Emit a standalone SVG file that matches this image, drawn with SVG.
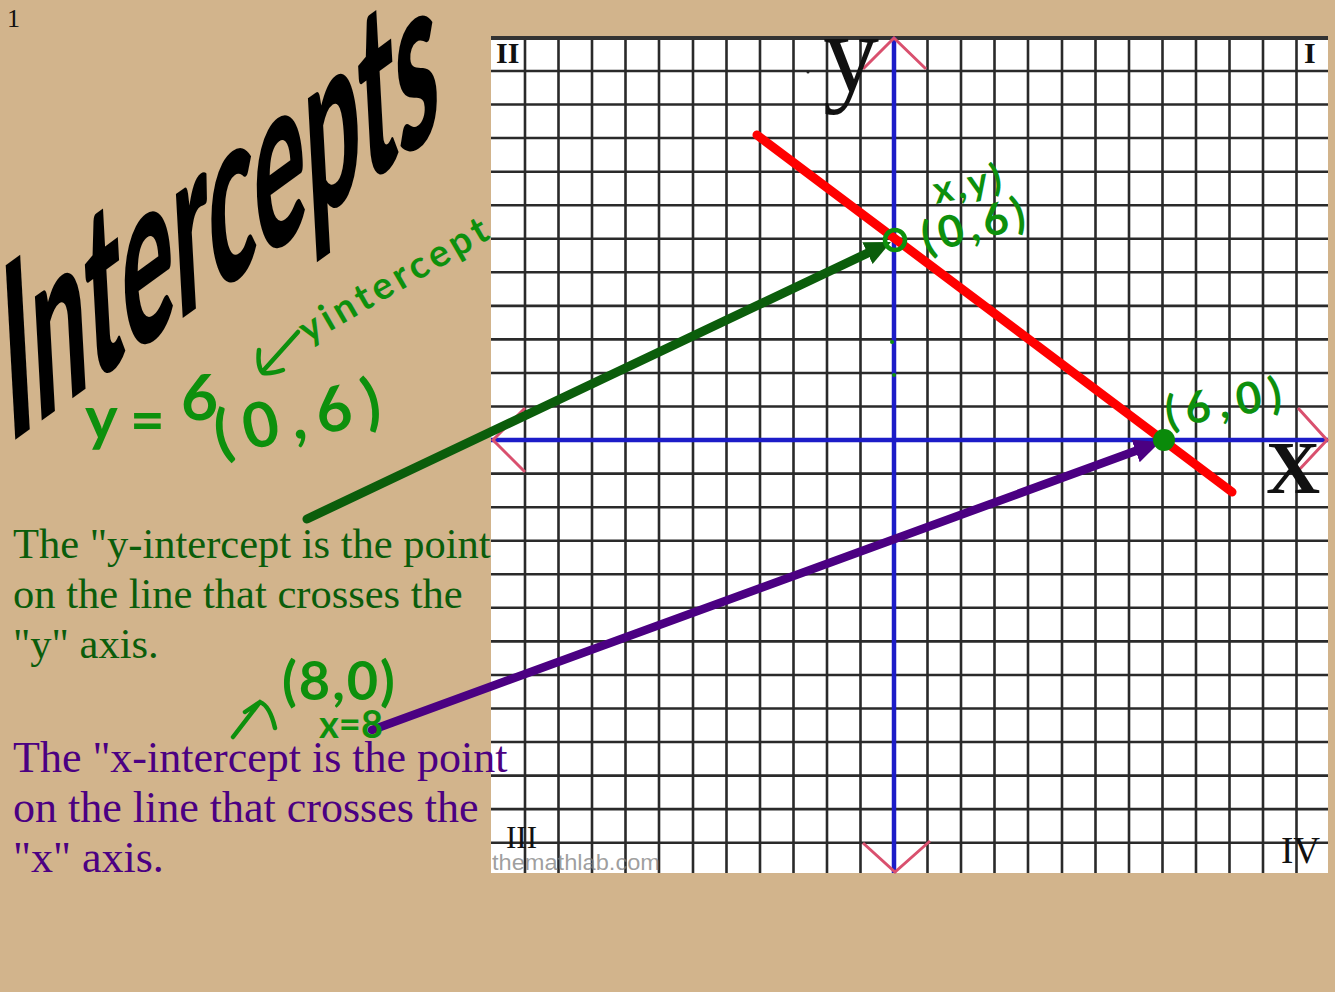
<svg xmlns="http://www.w3.org/2000/svg" width="1335" height="992" viewBox="0 0 1335 992">
<defs>
<style>
.grid{stroke:#2a2a2a;stroke-width:2.6;fill:none}
.axis{stroke:#1c1cc8;stroke-width:4.5;fill:none}
.pink{stroke:#d9506e;stroke-width:3;fill:none}
.quad{font-family:"Liberation Serif",serif;fill:#111}
.body{font-family:"Liberation Serif",serif}
.hand{font-family:Lato,"Open Sans",sans-serif;fill:#0d900d;font-weight:bold}
.handline{stroke:#0d900d;stroke-width:4.5;fill:none;stroke-linecap:round;stroke-linejoin:round}
</style>
<marker id="ahG" markerUnits="userSpaceOnUse" markerWidth="26" markerHeight="24" refX="10" refY="12" orient="auto"><path d="M0,0 L26,12 L0,24 Z" fill="#0b5d0b"/></marker>
<marker id="ahP" markerUnits="userSpaceOnUse" markerWidth="26" markerHeight="24" refX="10" refY="12" orient="auto"><path d="M0,0 L26,12 L0,24 Z" fill="#4b0082"/></marker>
</defs>
<rect x="0" y="0" width="1335" height="992" fill="#d2b48c"/>

<g id="graph">
<rect x="491" y="37" width="837" height="836" fill="#ffffff"/>
<path class="grid" d="M525 37V873M558.5 37V873M592 37V873M625.5 37V873M659 37V873M693 37V873M726.5 37V873M760 37V873M793.5 37V873M827 37V873M860.5 37V873M927.5 37V873M961 37V873M994.5 37V873M1028 37V873M1062 37V873M1095.5 37V873M1129 37V873M1162.5 37V873M1196 37V873M1229.5 37V873M1263 37V873M1296.5 37V873"/>
<path class="grid" d="M491 71H1328M491 104.5H1328M491 138H1328M491 171.7H1328M491 205.2H1328M491 238.8H1328M491 272.3H1328M491 305.9H1328M491 339.4H1328M491 373H1328M491 406.5H1328M491 473.6H1328M491 507.2H1328M491 540.7H1328M491 574.3H1328M491 607.8H1328M491 641.4H1328M491 675H1328M491 708.5H1328M491 742H1328M491 775.6H1328M491 809.1H1328M491 842.7H1328"/>
<path d="M491 38H1328" stroke="#333" stroke-width="4"/>
<path class="axis" d="M894 37V873M491 440H1328"/>
<path class="pink" d="M863 69L894 38L926 69M863 843L895 872L930 841M1298 408L1327 440L1298 471M525 408L493 440L525 472"/>
<circle cx="808" cy="72" r="1.5" fill="#222"/>
<text class="quad" x="496" y="63" font-size="30" font-weight="bold">II</text>
<text class="quad" x="1304" y="63" font-size="30" font-weight="bold">I</text>
<text class="quad" x="506" y="848" font-size="31">III</text>
<text class="quad" x="1281" y="863" font-size="37">IV</text>
<text class="quad" x="823" y="91" font-size="112">y</text>
<text class="quad" x="1266" y="493" font-size="75" font-weight="bold">X</text>
<text x="492" y="870" font-family="'Liberation Sans',Arial,sans-serif" font-size="22" textLength="168" lengthAdjust="spacingAndGlyphs" fill="#808080" fill-opacity="0.75">themathlab.com</text>
</g>

<g id="red-line">
<line x1="757" y1="135" x2="1232" y2="492" stroke="#ff0000" stroke-width="9" stroke-linecap="round"/>
</g>

<g id="connectors">
<line x1="307" y1="519" x2="876.5" y2="248.9" stroke="#0b5d0b" stroke-width="9" stroke-linecap="round" marker-end="url(#ahG)"/>
<line x1="372" y1="730" x2="1145" y2="447.5" stroke="#4b0082" stroke-width="8.5" stroke-linecap="round" marker-end="url(#ahP)"/>
</g>

<g id="points">
<circle cx="895" cy="240" r="10" fill="none" stroke="#0d900d" stroke-width="4.5"/>
<circle cx="1164" cy="440" r="11" fill="#0a8a0a"/>
<circle cx="892" cy="342" r="2" fill="#0d900d"/>
<circle cx="894" cy="375" r="2" fill="#0d900d"/>
</g>

<g id="title">
<text x="0" y="0" transform="translate(8,445) skewY(-36) skewX(3) scale(0.9,2.5)" font-family="Lato,Roboto,'Liberation Sans',sans-serif" font-weight="900" font-size="100" textLength="482" lengthAdjust="spacingAndGlyphs" fill="#000">Intercepts</text>
</g>
<text x="7" y="27" font-family="'Liberation Serif',serif" font-size="26" fill="#111">1</text>

<g id="y-intercept-text">
<text class="body" font-size="42.5" fill="#0b5d0b"><tspan x="13" y="558">The "y-intercept is the point</tspan><tspan x="13" y="608">on the line that crosses the</tspan><tspan x="13" y="658">"y" axis.</tspan></text>
</g>
<g id="x-intercept-text">
<text class="body" font-size="44" fill="#4b0082"><tspan x="13" y="772">The "x-intercept is the point</tspan><tspan x="13" y="822">on the line that crosses the</tspan><tspan x="13" y="872">"x" axis.</tspan></text>
</g>

<g id="annotations">
<path class="handline" d="M298 332L263 371M259 350Q257 367 263 373Q272 374 283 370"/>
<text class="hand" x="308" y="344" font-size="38" transform="rotate(-30 308 344)" textLength="212">yintercept</text>
<text class="hand" x="85" y="440" font-size="62">y</text>
<text class="hand" x="130" y="441" font-size="60">=</text>
<text class="hand" x="181" y="420" font-size="64">6</text>
<text class="hand" x="219" y="456" font-size="62" letter-spacing="12" transform="rotate(-12 219 456)">(0,6)</text>
<text class="hand" x="936" y="204" font-size="38" letter-spacing="4" transform="rotate(-12 936 204)">x,y)</text>
<text class="hand" x="926" y="254" font-size="44" letter-spacing="5" transform="rotate(-15 926 254)">(0,6)</text>
<text class="hand" x="1168" y="428" font-size="44" letter-spacing="8" transform="rotate(-10 1168 428)">(6,0)</text>
<text class="hand" x="282" y="700" font-size="54" letter-spacing="2">(8,0)</text>
<text class="hand" x="319" y="738" font-size="38">x=8</text>
<path class="handline" d="M233 737L260 702M245 712L260 702Q270 706 275 728"/>
</g>
</svg>
